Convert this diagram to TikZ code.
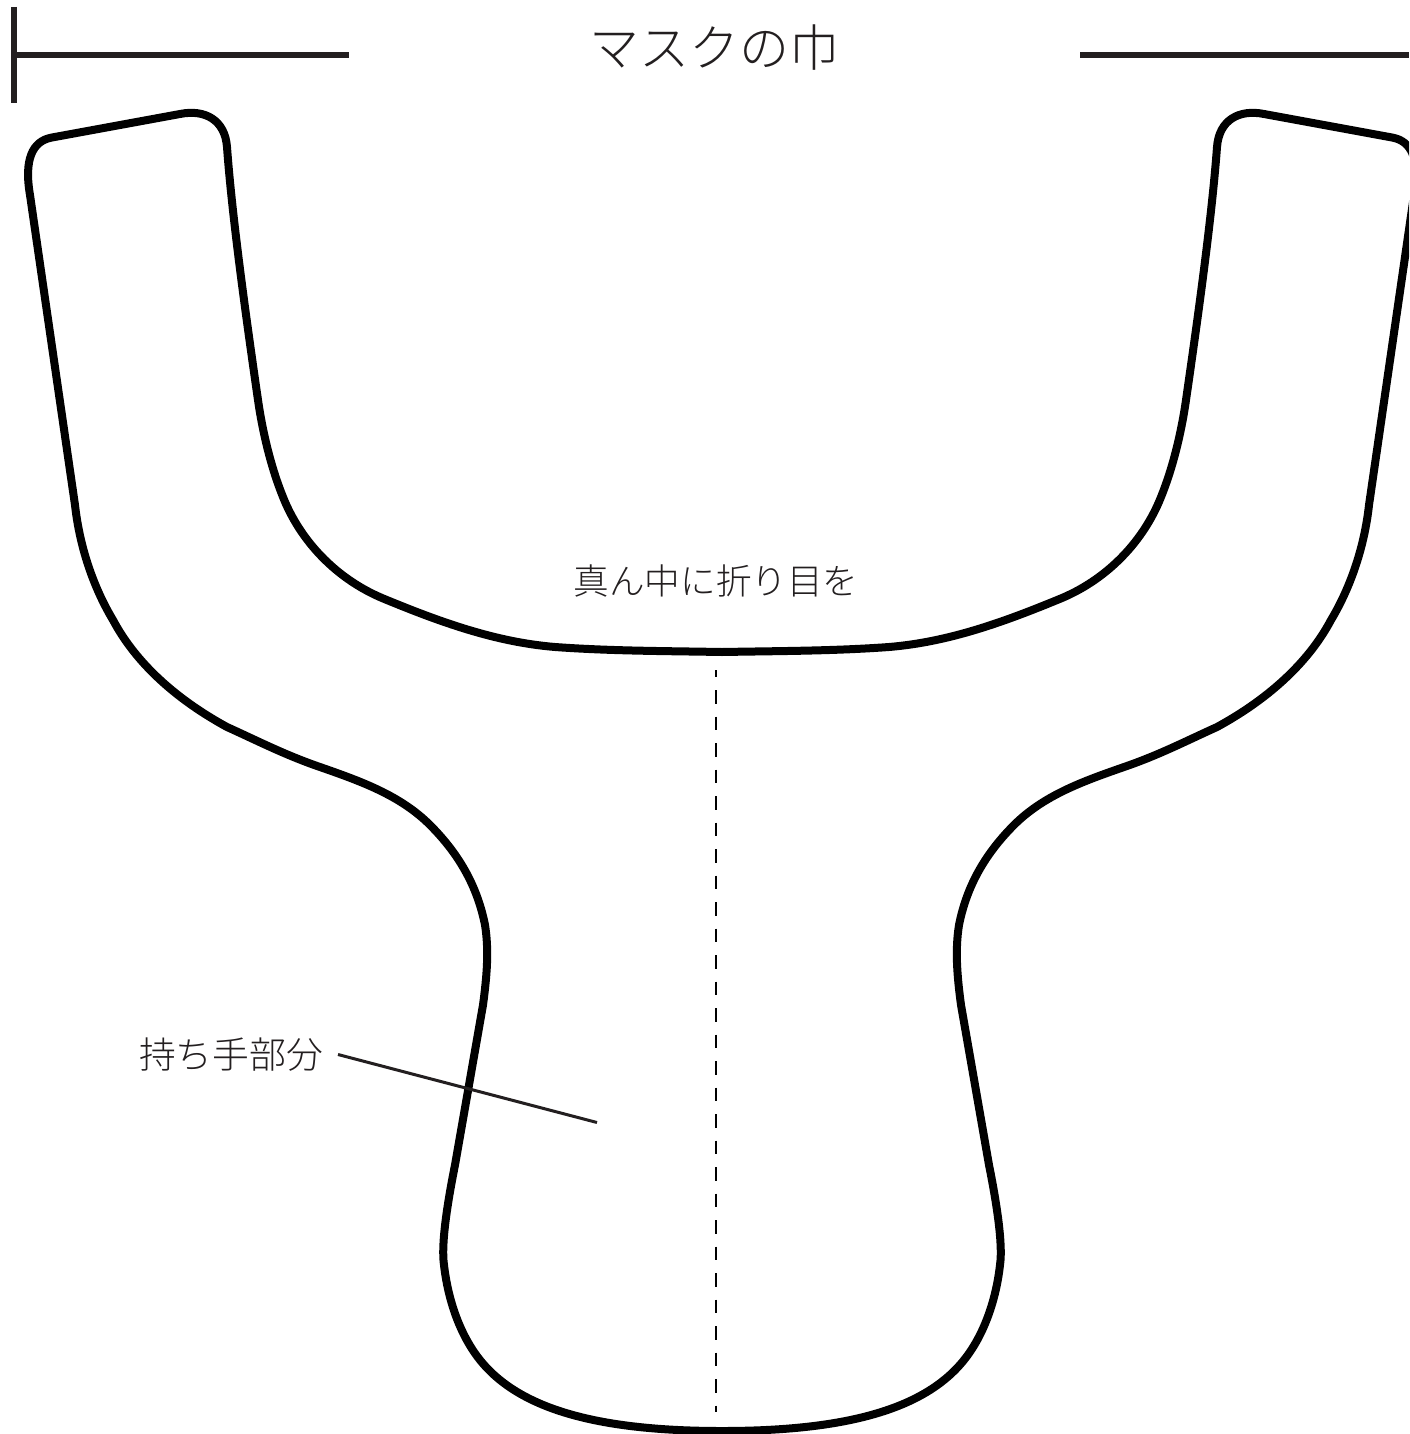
\documentclass[tikz,border=0pt]{standalone}
\usepackage{fontspec}
\setmainfont{Noto Sans CJK JP Light}
\definecolor{ink}{HTML}{231F20}
\tikzset{
  outline/.style={draw=black,line width=8pt,line join=round},
  rule/.style={draw=ink,line width=5.6pt},
  leader/.style={draw=ink,line width=3pt},
  fold/.style={draw=black,line width=2.5pt,dash pattern=on 13.5pt off 13pt,dash phase=6.5pt},
  bigtext/.style={text=ink,font=\fontsize{50}{50}\selectfont,inner sep=0pt},
  smalltext/.style={text=ink,font=\fontsize{35.6}{36}\selectfont,inner sep=0pt},
  midtext/.style={text=ink,font=\fontsize{36.8}{37}\selectfont,inner sep=0pt}
}
\begin{document}
\begin{tikzpicture}[x=1pt,y=-1pt]
\useasboundingbox (0,0) rectangle (1409,1434);
\clip (0,0) rectangle (1409,1434);
\draw[outline] (52,137.5) -- (180,114)
 .. controls (205,109) and (225,120) .. (227,147)
 .. controls (232,215) and (245,310) .. (258,400)
 .. controls (263,435) and (272,470) .. (283,497)
 .. controls (300,540) and (335,578) .. (382,598)
 .. controls (440,622) and (495,642) .. (555,647)
 .. controls (610,651) and (665,651) .. (722,652)
 .. controls (779,651) and (834,651) .. (889,647)
 .. controls (949,642) and (1004,622) .. (1062,598)
 .. controls (1109,578) and (1144,540) .. (1161,497)
 .. controls (1172,470) and (1181,435) .. (1186,400)
 .. controls (1199,310) and (1212,215) .. (1217,147)
 .. controls (1219,120) and (1239,109) .. (1264,114)
 -- (1392,137.5)
 .. controls (1412,141) and (1420,160) .. (1414,195)
 -- (1369,505)
 .. controls (1364,550) and (1349,590) .. (1331,620)
 .. controls (1314,652) and (1281,692) .. (1217,727)
 .. controls (1186,741) and (1159,755) .. (1124,767)
 .. controls (1084,781) and (1044,795) .. (1014,825)
 .. controls (982,857) and (966,890) .. (959,925)
 .. controls (955,950) and (957,975) .. (961,1005)
 -- (989,1165)
 .. controls (997,1205) and (1003,1245) .. (1000,1265)
 .. controls (996,1300) and (984,1335) .. (964,1360)
 .. controls (924,1410) and (844,1431) .. (722,1431)
 .. controls (600,1431) and (520,1410) .. (480,1360)
 .. controls (460,1335) and (448,1300) .. (444,1265)
 .. controls (441,1245) and (447,1205) .. (455,1165)
 -- (483,1005)
 .. controls (487,975) and (489,950) .. (485,925)
 .. controls (478,890) and (462,857) .. (430,825)
 .. controls (400,795) and (360,781) .. (320,767)
 .. controls (285,755) and (258,741) .. (227,727)
 .. controls (163,692) and (130,652) .. (113,620)
 .. controls (95,590) and (80,550) .. (75,505)
 -- (30,195)
 .. controls (24,160) and (32,141) .. (52,137.5) -- cycle;
\coordinate (tickTop) at (14,7);
\coordinate (tickBot) at (14,103);
\coordinate (ruleL) at (14,55);
\coordinate (ruleLe) at (349,55);
\coordinate (ruleR) at (1080,55);
\coordinate (ruleRe) at (1409,55);
\draw[rule] (tickTop) -- (tickBot);
\draw[rule] (ruleL) -- (ruleLe);
\draw[rule] (ruleR) -- (ruleRe);
\node[bigtext] (title) at (714.5,48) {マスクの巾};
\node[smalltext] (foldlabel) at (716,581) {真ん中に折り目を};
\node[midtext] (handle) at (231,1055) {持ち手部分};
\coordinate (handleEnd) at (597,1122.5);
\coordinate (handleStart) at (338,1054.5);
\draw[leader] (handleStart) -- (handleEnd);
\coordinate (foldTop) at (716,670);
\coordinate (foldBot) at (716,1412);
\draw[fold] (foldTop) -- (foldBot);
\end{tikzpicture}
\end{document}
